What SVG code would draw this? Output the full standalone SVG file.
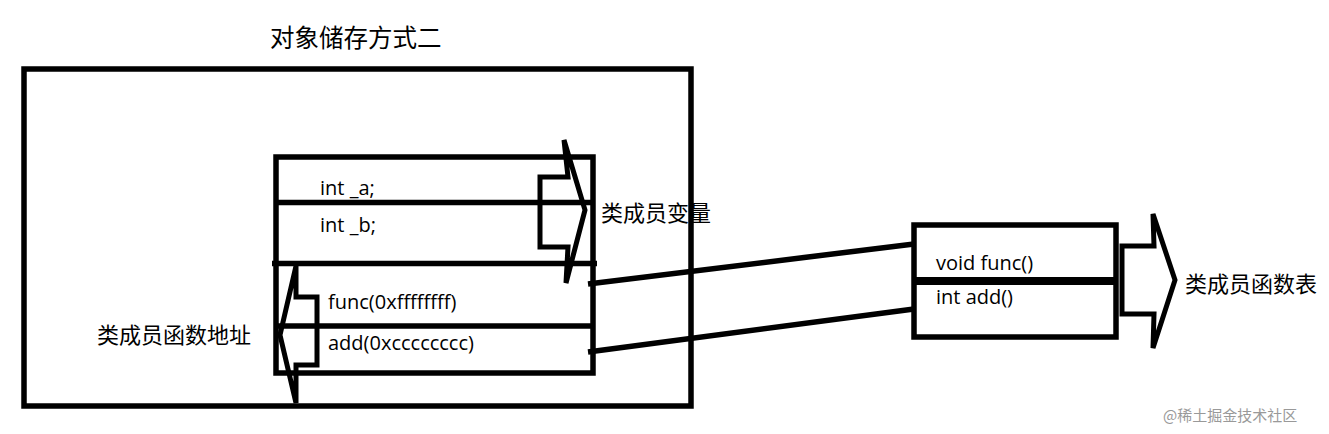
<svg xmlns="http://www.w3.org/2000/svg" width="1329" height="434" viewBox="0 0 1329 434">
<style>
.b{fill:none;stroke:#000;stroke-width:5.5}
.ar{fill:none;stroke:#000;stroke-width:5;stroke-linejoin:miter}
.code{font-family:"Open Sans","Noto Sans",sans-serif;font-size:20px;fill:#000}
.cn{font-family:"Noto Sans CJK SC",sans-serif;font-size:22px;fill:#000}
.wm{font-family:"Noto Sans CJK SC",sans-serif;font-size:15px;fill:#999}
</style>
<rect width="1329" height="434" fill="#fff"/>
<text class="cn" x="270" y="47" style="font-size:24.5px">对象储存方式二</text>
<g id="outer">
<rect class="b" x="24" y="69" width="667" height="337"/>
</g>
<g id="object">
<rect class="b" x="276" y="157" width="317" height="216"/>
<line class="b" x1="276" y1="202.5" x2="593" y2="202.5"/>
<line class="b" x1="272" y1="263.5" x2="597" y2="263.5"/>
<line class="b" x1="276" y1="326" x2="593" y2="326"/>
<text class="code" x="320" y="195">int _a;</text>
<text class="code" x="320" y="232">int _b;</text>
<text class="code" x="328" y="309">func(0xffffffff)</text>
<text class="code" x="328" y="350">add(0xcccccccc)</text>
</g>
<g id="var-arrow">
<path class="ar" d="M564,140 L585,210 L566,283 L568,247 L540,247 L540,177 L568,177 Z"/>
<text class="cn" x="601" y="221">类成员变量</text>
</g>
<g id="addr-arrow">
<path class="ar" d="M296,266 L280,335 L296,403 L296,365 L317,365 L317,297 L296,297 Z"/>
<text class="cn" x="97" y="343">类成员函数地址</text>
</g>
<g id="table">
<rect class="b" x="914" y="225" width="202" height="112"/>
<line class="b" x1="914" y1="281" x2="1116" y2="281" style="stroke-width:8"/>
<text class="code" x="936" y="270">void func()</text>
<text class="code" x="936" y="304">int add()</text>
</g>
<g id="table-arrow">
<path class="ar" d="M1153,214 L1175,280 L1153,348 L1154,314 L1122,314 L1122,246 L1154,246 Z"/>
<text class="cn" x="1185" y="292">类成员函数表</text>
</g>
<g id="connectors">
<line class="b" x1="588" y1="284" x2="914" y2="244"/>
<line class="b" x1="588" y1="352" x2="914" y2="309"/>
</g>
<text class="wm" x="1163" y="421">@稀土掘金技术社区</text>
</svg>
